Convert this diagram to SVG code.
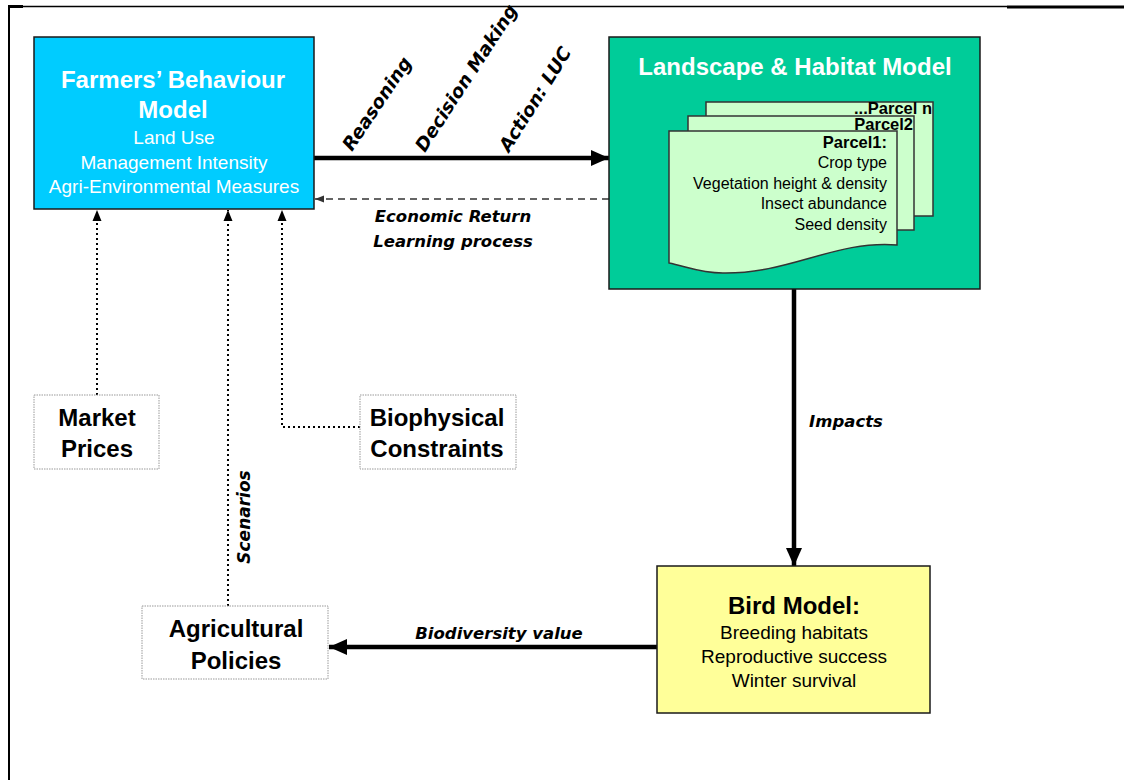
<svg xmlns="http://www.w3.org/2000/svg" width="1124" height="780" viewBox="0 0 1124 780">
<defs>
<style>
.box{stroke:#1a1a1a;stroke-width:1.5}
.dbox{fill:#fff;stroke:#999;stroke-width:1;stroke-dasharray:1.5 1}
.t{font-family:"Liberation Sans",Arial,sans-serif;text-anchor:middle}
.tw{fill:#fff}
.hb{font-weight:bold;font-size:24px}
.sub{font-size:19px}
.lab{font-family:"DejaVu Sans",Verdana,sans-serif;font-weight:bold;font-style:italic;font-size:16.5px;fill:#000}
.rot{font-size:18.5px}
.ptxt{font-family:"Liberation Sans",Arial,sans-serif;font-size:16px;text-anchor:end;fill:#000}
.ph{font-weight:bold;font-size:16.5px}
.parcel{fill:#CCFFCC;stroke:#333;stroke-width:1.5}
.thick{stroke:#000;stroke-width:4.5;fill:none}
.dot{stroke:#000;stroke-width:2;stroke-dasharray:2 3;fill:none}
.dash{stroke:#333;stroke-width:1.3;stroke-dasharray:7 5;fill:none}
</style>
<marker id="big" markerUnits="userSpaceOnUse" markerWidth="20" markerHeight="18" refX="18" refY="9" orient="auto"><path d="M0,1 L18,9 L0,17 Z" fill="#000"/></marker>
<marker id="sm" markerUnits="userSpaceOnUse" markerWidth="12" markerHeight="12" refX="11" refY="6" orient="auto"><path d="M0,1.5 L11,6 L0,10.5 Z" fill="#000"/></marker>
<marker id="smd" markerUnits="userSpaceOnUse" markerWidth="10" markerHeight="10" refX="9" refY="5" orient="auto"><path d="M0,1.5 L9,5 L0,8.5 Z" fill="#333"/></marker>
</defs>
<rect width="1124" height="780" fill="#fff"/>
<g id="frame">
<line x1="8" y1="6.5" x2="1007" y2="6.5" stroke="#000" stroke-width="1.5"/>
<line x1="8" y1="6.5" x2="23" y2="6.5" stroke="#000" stroke-width="3"/>
<line x1="1007" y1="7" x2="1124" y2="7" stroke="#000" stroke-width="3"/>
<line x1="9" y1="6" x2="9" y2="780" stroke="#000" stroke-width="2"/>
</g>
<g id="connectors">
<line class="thick" x1="314" y1="158" x2="609" y2="158" marker-end="url(#big)"/>
<line class="dash" x1="609" y1="199" x2="315" y2="199" marker-end="url(#smd)"/>
<line class="thick" x1="794" y1="289" x2="794" y2="566" marker-end="url(#big)"/>
<line class="thick" x1="657" y1="647" x2="329" y2="647" marker-end="url(#big)"/>
<line class="dot" x1="97" y1="395" x2="97" y2="210" marker-end="url(#sm)"/>
<line class="dot" x1="228" y1="606" x2="228" y2="210" marker-end="url(#sm)"/>
<polyline class="dot" points="360,427 282,427 282,210" marker-end="url(#sm)"/>
<text class="lab rot" transform="translate(352,152) rotate(-56)">Reasoning</text>
<text class="lab rot" transform="translate(425,153) rotate(-57)">Decision Making</text>
<text class="lab rot" transform="translate(509,153) rotate(-58)">Action: LUC</text>
<text class="lab" x="453" y="222" text-anchor="middle">Economic Return</text>
<text class="lab" x="453" y="247" text-anchor="middle">Learning process</text>
<text class="lab" x="846" y="427" text-anchor="middle">Impacts</text>
<text class="lab" x="499" y="639" text-anchor="middle">Biodiversity value</text>
<text class="lab" style="font-size:17px" text-anchor="middle" transform="translate(250,517) rotate(-90)">Scenarios</text>
</g>
<g id="farmers">
<rect class="box" x="34" y="37" width="280" height="172" fill="#00CCFF"/>
<text class="t tw hb" x="173" y="88">Farmers’ Behaviour</text>
<text class="t tw hb" x="173" y="118">Model</text>
<text class="t tw sub" x="174" y="144">Land Use</text>
<text class="t tw sub" x="174" y="169">Management Intensity</text>
<text class="t tw sub" x="174" y="193">Agri-Environmental Measures</text>
</g>
<g id="landscape">
<rect class="box" x="609" y="37" width="371" height="252" fill="#00CC99"/>
<text class="t tw hb" x="795" y="75">Landscape &amp; Habitat Model</text>
<rect class="parcel" x="706" y="102" width="227" height="114"/>
<text class="ptxt ph" x="932" y="114">...Parcel n</text>
<rect class="parcel" x="688" y="116" width="226" height="114"/>
<text class="ptxt ph" x="913" y="130">Parcel2</text>
<path class="parcel" d="M669,131 H897 V245 C835,240 790,274 723,273 C700,273 685,266 669,263 Z"/>
<text class="ptxt ph" x="887" y="148">Parcel1:</text>
<text class="ptxt" x="887" y="168">Crop type</text>
<text class="ptxt" x="887" y="189">Vegetation height &amp; density</text>
<text class="ptxt" x="887" y="209">Insect abundance</text>
<text class="ptxt" x="887" y="230">Seed density</text>
</g>
<g id="bird">
<rect class="box" x="657" y="566" width="273" height="147" fill="#FFFF99"/>
<text class="t hb" x="794" y="614">Bird Model:</text>
<text class="t sub" x="794" y="639">Breeding habitats</text>
<text class="t sub" x="794" y="663">Reproductive success</text>
<text class="t sub" x="794" y="687">Winter survival</text>
</g>
<g id="market">
<rect class="dbox" x="34" y="395" width="125" height="74"/>
<text class="t hb" x="97" y="426">Market</text>
<text class="t hb" x="97" y="457">Prices</text>
</g>
<g id="biophysical">
<rect class="dbox" x="360" y="395" width="156" height="74"/>
<text class="t hb" x="437" y="426">Biophysical</text>
<text class="t hb" x="437" y="457">Constraints</text>
</g>
<g id="agricultural">
<rect class="dbox" x="142" y="606" width="186" height="73"/>
<text class="t hb" x="236" y="637">Agricultural</text>
<text class="t hb" x="236" y="669">Policies</text>
</g>
</svg>
